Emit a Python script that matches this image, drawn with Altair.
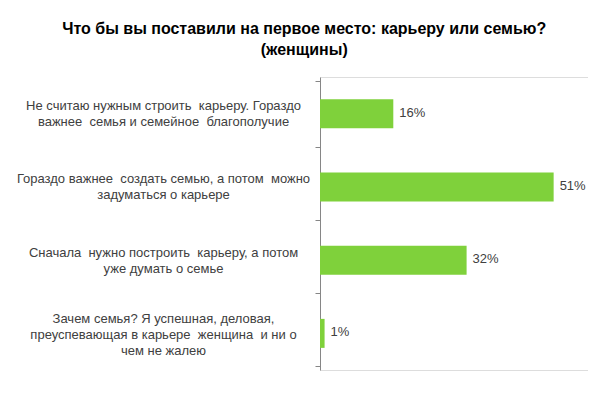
import altair as alt
import pandas as pd

categories = [
    "Не считаю нужным строить \u00a0карьеру. Гораздо|важнее \u00a0семья и семейное \u00a0благополучие",
    "Гораздо важнее \u00a0создать семью, а потом \u00a0можно|задуматься о карьере",
    "Сначала \u00a0нужно построить \u00a0карьеру, а потом|уже думать о семье",
    "Зачем семья? Я успешная, деловая,|преуспевающая в карьере \u00a0женщина \u00a0и ни о|чем не жалею",
]
values = [16, 51, 32, 1]
labels = ["16%", "51%", "32%", "1%"]

df = pd.DataFrame({"cat": categories, "val": values, "lab": labels})

y = alt.Y(
    "cat:N",
    sort=categories,
    title=None,
    axis=alt.Axis(
        labelExpr="split(datum.label, '|')",
        labelAlign="center",
        labelPadding=152,
        labelFontSize=13,
        labelFont="Liberation Sans",
        labelColor="#404040",
        labelLineHeight=16,
        labelLimit=0,
        labelOffset={
            "condition": {"test": "length(split(datum.label, '|')) > 2", "value": -15},
            "value": -8,
        },
        tickBand="extent",
        tickSize=5,
        tickColor="#868686",
        domainColor="#868686",
        grid=False,
    ),
)
x = alt.X("val:Q", scale=alt.Scale(domain=[0, 58.5]), axis=None)

bars = alt.Chart(df).mark_bar(color="#7FD13B", size=29).encode(x=x, y=y)
text = alt.Chart(df).mark_text(
    align="left", dx=6, dy=-1, fontSize=13, font="Liberation Sans", color="#404040"
).encode(x=x, y=y, text="lab:N")

chart = (
    alt.layer(bars, text)
    .properties(
        width=268,
        height=293,
        autosize=alt.AutoSizeParams(type="none"),
        padding={"left": 312, "top": 69, "right": 0, "bottom": 4},
        title=alt.TitleParams(
            text=["Что бы вы поставили на первое место: карьеру или семью?", "(женщины)"],
            font="Liberation Sans",
            fontSize=16,
            fontWeight="bold",
            color="#000000",
            anchor="middle",
            frame="bounds",
            dx=2,
            offset=13,
            lineHeight=21,
        ),
    )
    .configure_view(stroke=None)
    .configure(background="white")
)

chart.save("out.html", embed_options={"renderer": "svg", "actions": False})
